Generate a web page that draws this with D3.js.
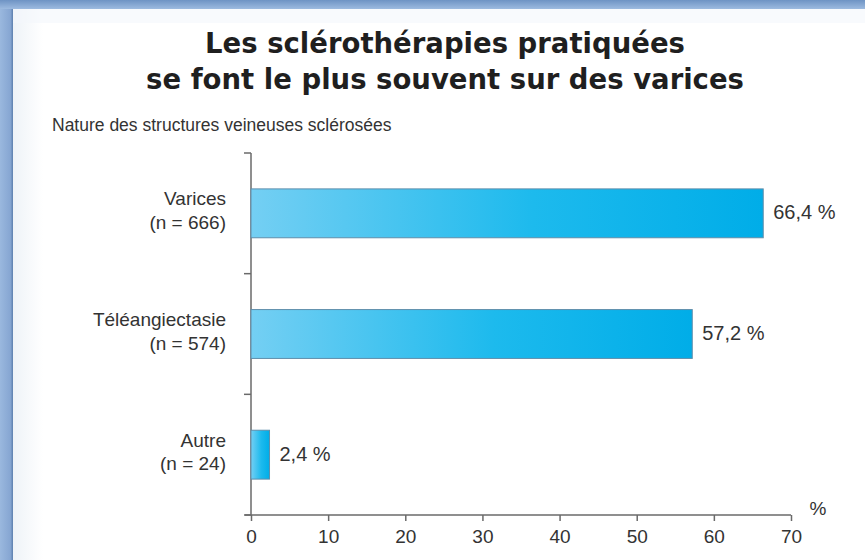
<!DOCTYPE html>
<html><head><meta charset="utf-8">
<script src="https://cdn.jsdelivr.net/npm/d3@7"></script>
<style>html,body{margin:0;padding:0;background:#fff;}svg{display:block;}</style>
</head><body>
<script>
const titleLines = ["Les sclérothérapies pratiquées", "se font le plus souvent sur des varices"];
const subtitle = "Nature des structures veineuses sclérosées";
const categories = ["Varices", "Téléangiectasie", "Autre"];
const counts = ["(n = 666)", "(n = 574)", "(n = 24)"];
const values = [66.4, 57.2, 2.4];
const valueLabels = ["66,4 %", "57,2 %", "2,4 %"];
const xTicks = [0, 10, 20, 30, 40, 50, 60, 70];
const xUnit = "%";

const W = 865, H = 560;
const svg = d3.select("body").append("svg").attr("width", W).attr("height", H);
const defs = svg.append("defs");

const fg = defs.append("linearGradient").attr("id", "frameTop").attr("x1", 0).attr("y1", 0).attr("x2", 0).attr("y2", 1);
fg.append("stop").attr("offset", 0).attr("stop-color", "#6e93c4");
fg.append("stop").attr("offset", 1).attr("stop-color", "#9dbbe0");
const fl = defs.append("linearGradient").attr("id", "frameLeft").attr("x1", 0).attr("y1", 0).attr("x2", 1).attr("y2", 0);
fl.append("stop").attr("offset", 0).attr("stop-color", "#9ab8de");
fl.append("stop").attr("offset", 0.8).attr("stop-color", "#86a6d2");
fl.append("stop").attr("offset", 1).attr("stop-color", "#5c7fae");
const pg = defs.append("linearGradient").attr("id", "panelLeft").attr("x1", 0).attr("y1", 0).attr("x2", 1).attr("y2", 0);
pg.append("stop").attr("offset", 0).attr("stop-color", "#eef3f8");
pg.append("stop").attr("offset", 1).attr("stop-color", "#ffffff");

const bg = defs.append("linearGradient").attr("id", "barGrad").attr("x1", 0).attr("y1", 0).attr("x2", 1).attr("y2", 0);
bg.append("stop").attr("offset", 0).attr("stop-color", "#74cff3");
bg.append("stop").attr("offset", 0.55).attr("stop-color", "#1dbaed");
bg.append("stop").attr("offset", 1).attr("stop-color", "#00ade8");

// frame
svg.append("rect").attr("x", 0).attr("y", 0).attr("width", W).attr("height", H).attr("fill", "#ffffff");
svg.append("rect").attr("x", 13).attr("y", 9).attr("width", 30).attr("height", H - 9).attr("fill", "url(#panelLeft)");
svg.append("rect").attr("x", 13).attr("y", 9).attr("width", W - 13).attr("height", 14).attr("fill", "#f3f7fb").attr("opacity", 0.6);
svg.append("rect").attr("x", 0).attr("y", 0).attr("width", 13).attr("height", H).attr("fill", "url(#frameLeft)");
svg.append("rect").attr("x", 0).attr("y", 0).attr("width", W).attr("height", 9).attr("fill", "url(#frameTop)");

const font = "'Liberation Sans', Arial, Helvetica, sans-serif";
const textCol = "#333";

// title
svg.selectAll("text.title").data(titleLines).enter().append("text")
  .attr("class", "title")
  .attr("x", 445).attr("y", (d, i) => 53 + i * 36)
  .attr("text-anchor", "middle")
  .attr("font-family", "'DejaVu Sans', sans-serif").attr("font-weight", "bold").attr("font-size", 27.5)
  .attr("fill", "#1f1f1f").text(d => d);

svg.append("text").attr("x", 52).attr("y", 131)
  .attr("font-family", font).attr("font-size", 17.5).attr("fill", textCol).text(subtitle);

// scales
const x = d3.scaleLinear().domain([0, 70]).range([251, 791]);
const y = d3.scaleBand().domain(categories).range([153, 515]).paddingInner(0.595).paddingOuter(0.2975);

const axisCol = "#6a6a6a";
// y axis
const yAxisG = svg.append("g");
yAxisG.append("line").attr("x1", x(0)).attr("x2", x(0)).attr("y1", 153).attr("y2", 515)
  .attr("stroke", axisCol).attr("stroke-width", 1.5);
const yBounds = [153].concat(categories.map(c => y(c) + y.bandwidth() + y.step() * y.paddingInner() / 2));
yAxisG.selectAll("line.yt").data(yBounds).enter().append("line").attr("class", "yt")
  .attr("x1", x(0) - 7).attr("x2", x(0)).attr("y1", d => d).attr("y2", d => d)
  .attr("stroke", axisCol).attr("stroke-width", 1.5);

// x axis
const xAxis = d3.axisBottom(x).tickValues(xTicks).tickSize(6).tickSizeOuter(0).tickPadding(6);
const gx = svg.append("g").attr("transform", "translate(0,515)").call(xAxis);
gx.select(".domain").remove();
gx.append("line").attr("x1", x(0) - 6).attr("x2", x(70)).attr("y1", 0).attr("y2", 0)
  .attr("stroke", axisCol).attr("stroke-width", 1.5);
gx.selectAll(".tick line").attr("stroke", axisCol).attr("stroke-width", 1.5);
gx.selectAll(".tick text").attr("font-family", font).attr("font-size", 19).attr("fill", textCol).attr("dy", "0.85em");

svg.append("text").attr("x", 818).attr("y", 515).attr("text-anchor", "middle")
  .attr("font-family", font).attr("font-size", 19).attr("fill", textCol).text(xUnit);

// bars
const data = categories.map((c, i) => ({c, n: counts[i], v: values[i], lab: valueLabels[i]}));
svg.selectAll("rect.bar").data(data).enter().append("rect").attr("class", "bar")
  .attr("x", x(0)).attr("y", d => y(d.c))
  .attr("width", d => x(d.v) - x(0)).attr("height", y.bandwidth())
  .attr("fill", "url(#barGrad)").attr("stroke", "#5f8eab").attr("stroke-width", 1);

svg.selectAll("text.val").data(data).enter().append("text").attr("class", "val")
  .attr("x", d => x(d.v) + 10).attr("y", d => y(d.c) + y.bandwidth() / 2 + 6)
  .attr("font-family", font).attr("font-size", 20).attr("fill", textCol).text(d => d.lab);

const cl = svg.selectAll("g.cat").data(data).enter().append("g").attr("class", "cat");
cl.append("text").attr("x", 226).attr("y", d => y(d.c) + y.bandwidth() / 2 - 8)
  .attr("text-anchor", "end").attr("font-family", font).attr("font-size", 19).attr("fill", textCol).text(d => d.c);
cl.append("text").attr("x", 226).attr("y", d => y(d.c) + y.bandwidth() / 2 + 15.5)
  .attr("text-anchor", "end").attr("font-family", font).attr("font-size", 19).attr("fill", textCol).text(d => d.n);
</script>
</body></html>
